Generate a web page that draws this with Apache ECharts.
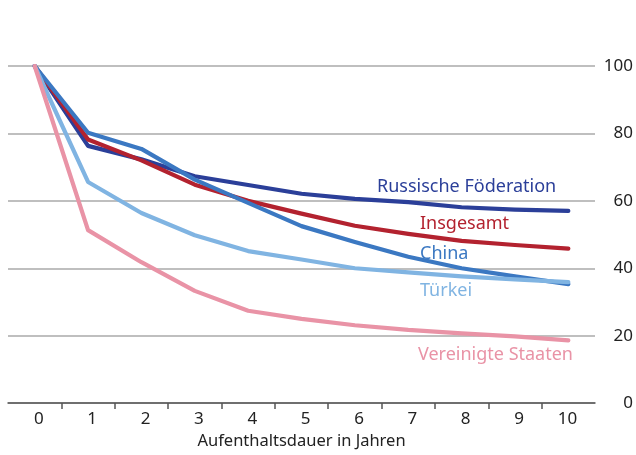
<!DOCTYPE html>
<html>
<head>
<meta charset="utf-8">
<script src="https://cdn.jsdelivr.net/npm/echarts@6/dist/echarts.min.js"></script>
<style>
  html, body { margin: 0; padding: 0; background: #fff; }
  #chart { width: 636px; height: 455px; }
</style>
</head>
<body>
<div id="chart"></div>
<script>
// Aufenthaltsdauer in Jahren
var years = [0, 1, 2, 3, 4, 5, 6, 7, 8, 9, 10];
var yTicks = [0, 20, 40, 60, 80, 100];

// Werte (Index = Jahre)
var russland  = [100, 76.3, 72.3, 67.3, 64.7, 62.1, 60.6, 59.6, 58.1, 57.4, 57.0];
var insgesamt = [100, 78.2, 72.0, 64.8, 60.0, 56.2, 52.6, 50.2, 48.1, 46.9, 45.8];
var china     = [100, 80.2, 75.4, 66.3, 59.4, 52.5, 47.8, 43.4, 40.0, 37.6, 35.3];
var tuerkei   = [100, 65.6, 56.4, 49.8, 45.1, 42.6, 40.0, 38.8, 37.6, 36.7, 35.9];
var usa       = [100, 51.3, 41.8, 33.3, 27.4, 25.0, 23.1, 21.7, 20.7, 19.8, 18.6];

var FONT = '"Noto Sans", sans-serif';

function pairs(vals) {
  return years.map(function (y, i) { return [y, vals[i]]; });
}

function lineSeries(name, color, vals) {
  return {
    name: name,
    type: 'line',
    data: pairs(vals),
    symbol: 'none',
    smooth: false,
    lineStyle: { color: color, width: 4.2, cap: 'round', join: 'round' }
  };
}

var myChart = echarts.init(document.getElementById('chart'));

// tick marks sit between the years
var tickPos = years.slice(0, -1).map(function (y) { return y + 0.5; });

var labels = [
  { text: 'Russische Föderation', x: 377, y: 187, color: '#2b3f99' },
  { text: 'Insgesamt', x: 420, y: 224, color: '#b3222f' },
  { text: 'China', x: 420, y: 254, color: '#3b78c2' },
  { text: 'Türkei', x: 420, y: 291, color: '#80b4e2' },
  { text: 'Vereinigte Staaten', x: 418, y: 355, color: '#e993a6' }
];

var option = {
  animation: false,
  grid: { left: 8, right: 38, top: 66, bottom: 49, containLabel: false },
  xAxis: {
    type: 'value',
    min: -0.5,
    max: 10.5,
    name: 'Aufenthaltsdauer in Jahren',
    nameLocation: 'middle',
    nameGap: 26,
    nameTextStyle: { fontFamily: FONT, fontSize: 16.5, color: '#222' },
    axisLine: { show: true, lineStyle: { color: '#555', width: 1.5 } },
    axisTick: { show: true, length: 6, inside: false, customValues: tickPos,
      lineStyle: { color: '#555', width: 1.5 } },
    axisLabel: {
      customValues: years,
      margin: 8,
      fontFamily: FONT, fontSize: 17, color: '#222',
      formatter: function (v) { return '{a|' + v + '}'; },
      rich: { a: { width: 18, align: 'right', fontFamily: FONT, fontSize: 17, color: '#222' } }
    },
    splitLine: { show: false }
  },
  yAxis: {
    type: 'value',
    position: 'right',
    min: 0,
    max: 100,
    interval: 20,
    axisLine: { show: false },
    axisTick: { show: false },
    axisLabel: { margin: 38, align: 'right', fontFamily: FONT, fontSize: 17, color: '#222' },
    splitLine: { show: true, lineStyle: { color: '#aaa', width: 1.5 } }
  },
  series: [
    lineSeries('Russische Föderation', '#2b3f99', russland),
    lineSeries('Insgesamt', '#b3222f', insgesamt),
    lineSeries('China', '#3b78c2', china),
    lineSeries('Türkei', '#80b4e2', tuerkei),
    lineSeries('Vereinigte Staaten', '#e993a6', usa)
  ],
  graphic: labels.map(function (l) {
    return {
      type: 'text',
      x: l.x,
      y: l.y,
      style: { text: l.text, fill: l.color, font: '18px ' + FONT, textVerticalAlign: 'middle' }
    };
  })
};

myChart.setOption(option);
</script>
</body>
</html>
